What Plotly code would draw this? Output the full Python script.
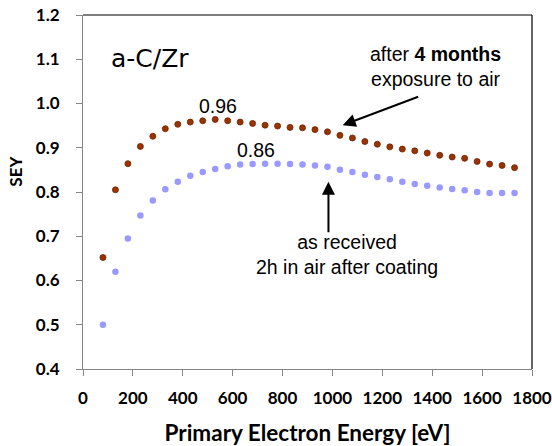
import plotly.graph_objects as go

energy = [80, 130, 180, 230, 280, 330, 380, 430, 480, 530, 580, 630, 680, 730, 780, 830, 880,
          930, 980, 1030, 1080, 1130, 1180, 1230, 1280, 1330, 1380, 1430, 1480, 1530, 1580, 1630, 1680, 1730]
sey_4months = [0.652, 0.805, 0.864, 0.903, 0.926, 0.943, 0.953, 0.958, 0.961, 0.964, 0.961, 0.958,
               0.955, 0.951, 0.949, 0.946, 0.945, 0.941, 0.936, 0.928, 0.922, 0.914, 0.908, 0.902,
               0.897, 0.893, 0.888, 0.883, 0.879, 0.876, 0.869, 0.863, 0.860, 0.855]
sey_received = [0.500, 0.620, 0.695, 0.747, 0.781, 0.806, 0.823, 0.837, 0.845, 0.852, 0.858, 0.862,
                0.863, 0.864, 0.864, 0.863, 0.862, 0.860, 0.857, 0.850, 0.845, 0.839, 0.834, 0.829,
                0.823, 0.818, 0.814, 0.810, 0.807, 0.804, 0.800, 0.798, 0.798, 0.798]
x_ticks = [0, 200, 400, 600, 800, 1000, 1200, 1400, 1600, 1800]
y_ticks = [0.4, 0.5, 0.6, 0.7, 0.8, 0.9, 1.0, 1.1, 1.2]

fig = go.Figure()
fig.add_trace(go.Scatter(x=energy, y=sey_received, mode="markers",
                         marker=dict(size=6.5, color="#9999FF", line=dict(width=0)),
                         name="as received", showlegend=False))
fig.add_trace(go.Scatter(x=energy, y=sey_4months, mode="markers",
                         marker=dict(size=6, color="#993300", line=dict(width=0.8, color="#6e1f00")),
                         name="after 4 months", showlegend=False))

axis_font = dict(family="Lato", size=17, color="#000000", weight="bold")
fig.update_layout(
    width=552, height=446,
    margin=dict(l=82.7, r=20, t=14.7, b=77.3),
    paper_bgcolor="white", plot_bgcolor="white",
    font=dict(family="Liberation Sans", color="#000000"),
    xaxis=dict(range=[0, 1800], tickvals=x_ticks, ticktext=["<b>%d</b>" % v for v in x_ticks],
               showgrid=False, zeroline=False, showline=True, linecolor="#868686", linewidth=1,
               ticks="outside", ticklen=6, tickcolor="#868686", tickfont=axis_font,
               ticklabelstandoff=8, automargin=False, ticklabeloverflow="allow",
               title=dict(text="<b>Primary Electron Energy [eV]</b>",
                          font=dict(family="Lato", size=22.5, weight="bold"), standoff=18)),
    yaxis=dict(range=[0.4, 1.2], tickvals=y_ticks, ticktext=["<b>%.1f</b>" % v for v in y_ticks],
               showgrid=False, zeroline=False, showline=True, linecolor="#868686", linewidth=1,
               ticks="outside", ticklen=6, tickcolor="#868686", tickfont=axis_font,
               ticklabelstandoff=13, automargin=False, ticklabeloverflow="allow"),
    shapes=[
        dict(type="line", xref="paper", yref="paper", x0=0, y0=1, x1=1, y1=1,
             line=dict(color="black", width=1.2)),
        dict(type="line", xref="paper", yref="paper", x0=1, y0=0, x1=1, y1=1,
             line=dict(color="black", width=1.2)),
    ],
)

txt_font = dict(family="Liberation Sans", size=19.5, color="black")
arrow_font = dict(size=1)
annotations = [
    dict(x=-0.151, y=0.558, xref="paper", yref="paper", text="<b>SEY</b>", textangle=-90,
         xanchor="center", yanchor="middle",
         showarrow=False, font=dict(family="Lato", size=17)),
    dict(x=270, y=1.102, text="a-C/Zr", showarrow=False, xanchor="center", yanchor="middle",
         font=dict(family="DejaVu Sans", size=25, color="black")),
    dict(x=542, y=0.994, text="0.96", showarrow=False, xanchor="center", yanchor="middle",
         font=txt_font),
    dict(x=692, y=0.896, text="0.86", showarrow=False, xanchor="center", yanchor="middle",
         font=txt_font),
    dict(x=1415, y=1.084, text="after <b>4 months</b><br>exposure to air", showarrow=False,
         xanchor="center", yanchor="middle", font=txt_font),
    dict(x=1059, y=0.658, text="as received<br>2h in air after coating", showarrow=False,
         xanchor="center", yanchor="middle", font=txt_font),
    dict(x=1041, y=0.951, ax=77, ay=-29, text="", showarrow=True, font=arrow_font,
         arrowhead=2, arrowsize=1.3, arrowwidth=2, arrowcolor="black", standoff=0, startstandoff=0),
    dict(x=984, y=0.823, ax=0, ay=52, text="", showarrow=True, font=arrow_font,
         arrowhead=2, arrowsize=1.3, arrowwidth=2, arrowcolor="black", standoff=0, startstandoff=0),
]
fig.update_layout(annotations=annotations)

fig.write_html("out.html", config={"displayModeBar": False},
               post_script="document.body.style.margin='0px';")
